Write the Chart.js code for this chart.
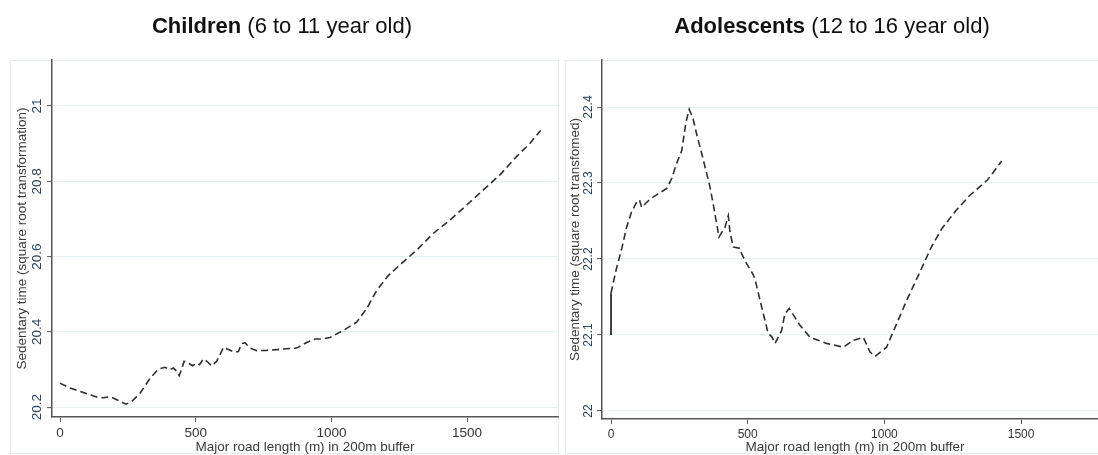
<!DOCTYPE html>
<html>
<head>
<meta charset="utf-8">
<script src="https://cdn.jsdelivr.net/npm/chart.js@4.4.1/dist/chart.umd.min.js"></script>
<style>
  html, body { margin: 0; padding: 0; background: #fff; overflow: hidden; }
  body { width: 1098px; height: 455px; position: relative; font-family: "Liberation Sans", Arial, sans-serif; }
  .panel { position: absolute; top: 0; width: 560px; height: 455px; }
  .title { position: absolute; top: 13px; line-height: 25px; font-size: 22px; color: #111; white-space: nowrap; transform: translateX(-50%); }
  .title b { font-weight: bold; }
</style>
</head>
<body>
<div class="panel" style="left:0"><canvas id="children"></canvas></div>
<div class="panel" style="left:550px"><canvas id="adolescents"></canvas></div>
<div class="title" style="left:282px"><b>Children</b> (6 to 11 year old)</div>
<div class="title" style="left:832px"><b>Adolescents</b> (12 to 16 year old)</div>
<script>
// road length (m) and predicted sedentary time
const childX = [0, 37, 86, 135, 160, 184, 209, 243, 264, 295, 332, 362, 387, 405, 418, 430, 439, 448, 457, 473,
  489, 504, 514, 528, 541, 559, 577, 590, 602, 627, 645, 657, 670, 682, 700, 725, 762, 799, 848, 872,
  909, 940, 964, 995, 1044, 1093, 1130, 1167, 1210, 1259, 1314, 1376, 1437, 1499, 1560, 1621, 1683, 1732, 1771];
const childY = [20.264, 20.251, 20.239, 20.227, 20.225, 20.228, 20.22, 20.208, 20.215, 20.237, 20.277, 20.301, 20.306, 20.3, 20.304, 20.295, 20.284, 20.3, 20.322, 20.317,
  20.31, 20.317, 20.313, 20.328, 20.322, 20.31, 20.322, 20.34, 20.359, 20.351, 20.346, 20.348, 20.369, 20.371, 20.357, 20.35, 20.351, 20.353, 20.356, 20.357,
  20.372, 20.381, 20.381, 20.385, 20.404, 20.426, 20.462, 20.51, 20.55, 20.582, 20.617, 20.662, 20.697, 20.737, 20.777, 20.817, 20.866, 20.901, 20.935];

const adolX = [0, 18, 40, 57, 75, 94, 104, 112, 143, 173, 204, 222, 240, 259, 274, 286, 300, 313, 338, 362,
  375, 395, 417, 429, 435, 447, 472, 478, 496, 521, 527, 551, 575, 588, 600, 624, 636, 652, 691, 728,
  789, 850, 886, 923, 947, 966, 1008, 1045, 1082, 1130, 1172, 1210, 1262, 1313, 1377, 1429];
const adolY = [22.155, 22.185, 22.215, 22.242, 22.262, 22.275, 22.278, 22.268, 22.279, 22.286, 22.293, 22.306, 22.326, 22.343, 22.38, 22.397, 22.385, 22.365, 22.33, 22.295,
  22.27, 22.229, 22.242, 22.257, 22.236, 22.216, 22.214, 22.207, 22.194, 22.179, 22.173, 22.137, 22.102, 22.098, 22.089, 22.106, 22.128, 22.135, 22.113, 22.097,
  22.089, 22.084, 22.093, 22.097, 22.078, 22.072, 22.084, 22.115, 22.146, 22.183, 22.216, 22.24, 22.264, 22.284, 22.304, 22.329];
// short solid stroke at zero road length
const adolZeroX = [0, 0];
const adolZeroY = [22.1, 22.155];

const xTicks = [0, 500, 1000, 1500];
const childYTicks = [20.2, 20.4, 20.6, 20.8, 21];
const adolYTicks = [22, 22.1, 22.2, 22.3, 22.4];

const xTitle = 'Major road length (m) in 200m buffer';
const childYTitle = 'Sedentary time (square root transformation)';
const adolYTitle = 'Sedentary time (square root transfomed)';

const pts = (xs, ys) => xs.map((x, i) => ({ x: x, y: ys[i] }));

// stata-like panel: faint frame, rotated y labels, axis titles
const stataPanel = {
  id: 'stataPanel',
  beforeDraw(chart, args, o) {
    const ctx = chart.ctx;
    ctx.save();
    ctx.strokeStyle = '#e4eced';
    ctx.lineWidth = 1;
    ctx.strokeRect(o.frameLeft + 0.5, 60.5, 558 - o.frameLeft, 393);
    ctx.restore();
  },
  afterDraw(chart, args, o) {
    const { ctx, chartArea, scales } = chart;
    const x = scales.x, y = scales.y;
    ctx.save();
    // y tick labels, reading bottom to top
    ctx.fillStyle = '#2f4159';
    ctx.font = o.tickSize + 'px "Liberation Sans", Arial, sans-serif';
    ctx.textAlign = 'center';
    ctx.textBaseline = 'middle';
    y.ticks.forEach(t => {
      ctx.save();
      ctx.translate(o.yTickX, y.getPixelForValue(t.value));
      ctx.rotate(-Math.PI / 2);
      ctx.fillText(String(t.value), 0, 0);
      ctx.restore();
    });
    // x tick labels
    ctx.fillStyle = '#333';
    ctx.textBaseline = 'top';
    x.ticks.forEach(t => {
      ctx.fillText(String(t.value), x.getPixelForValue(t.value), chartArea.bottom + 10);
    });
    // axis titles
    ctx.fillStyle = '#3a3a3a';
    ctx.font = o.titleSize + 'px "Liberation Sans", Arial, sans-serif';
    ctx.textBaseline = 'middle';
    ctx.fillText(xTitle, (chartArea.left + chartArea.right) / 2, 447);
    ctx.save();
    ctx.translate(o.yTitleX, (chartArea.top + chartArea.bottom) / 2);
    ctx.rotate(-Math.PI / 2);
    ctx.fillText(o.yTitle, 0, 0);
    ctx.restore();
    ctx.restore();
  }
};

function makeChart(id, lines, xMin, xMax, yMin, yMax, yTicks, bottom, panelOpts) {
  return new Chart(document.getElementById(id), {
    type: 'line',
    data: { datasets: lines },
    options: {
      responsive: false,
      animation: false,
      devicePixelRatio: 1,
      layout: { padding: { top: 60, right: 2, left: 0, bottom: 0 } },
      plugins: { legend: { display: false }, tooltip: { enabled: false }, stataPanel: panelOpts },
      elements: { point: { radius: 0 }, line: { tension: 0 } },
      scales: {
        x: {
          type: 'linear', min: xMin, max: xMax,
          afterBuildTicks: s => { s.ticks = xTicks.map(v => ({ value: v })); },
          afterFit: s => { s.height = 455 - bottom; },
          ticks: { display: false },
          grid: { drawOnChartArea: false, tickLength: 5, tickColor: '#555', tickWidth: 1 },
          border: { color: '#555', width: 1.5 }
        },
        y: {
          type: 'linear', min: yMin, max: yMax,
          afterBuildTicks: s => { s.ticks = yTicks.map(v => ({ value: v })); },
          afterFit: s => { s.width = 52; },
          ticks: { display: false },
          grid: { color: '#e8f0f1', lineWidth: 1.2, tickLength: 5, tickColor: '#555', tickWidth: 1 },
          border: { color: '#555', width: 1.5 }
        }
      }
    },
    plugins: [stataPanel]
  });
}

function sizeCanvas(id) {
  const c = document.getElementById(id);
  c.width = 560; c.height = 455;
  c.style.width = '560px'; c.style.height = '455px';
}
sizeCanvas('children');
sizeCanvas('adolescents');

const dashed = { borderColor: '#2e2e2e', borderWidth: 1.6, borderDash: [7, 4], fill: false };

makeChart('children',
  [Object.assign({ data: pts(childX, childY) }, dashed)],
  -29.5, 1835, 20.174, 21.122, childYTicks, 417,
  { frameLeft: 10, yTickX: 37, yTitleX: 22, tickSize: 13.5, titleSize: 13.5, yTitle: childYTitle });

makeChart('adolescents',
  [Object.assign({ data: pts(adolX, adolY) }, dashed),
   { data: pts(adolZeroX, adolZeroY), borderColor: '#2b2b2b', borderWidth: 1.8, fill: false }],
  -33, 1818, 21.9895, 22.462, adolYTicks, 419,
  { frameLeft: 15, yTickX: 39, yTitleX: 25, tickSize: 12, titleSize: 13.5, yTitle: adolYTitle });
</script>
</body>
</html>
